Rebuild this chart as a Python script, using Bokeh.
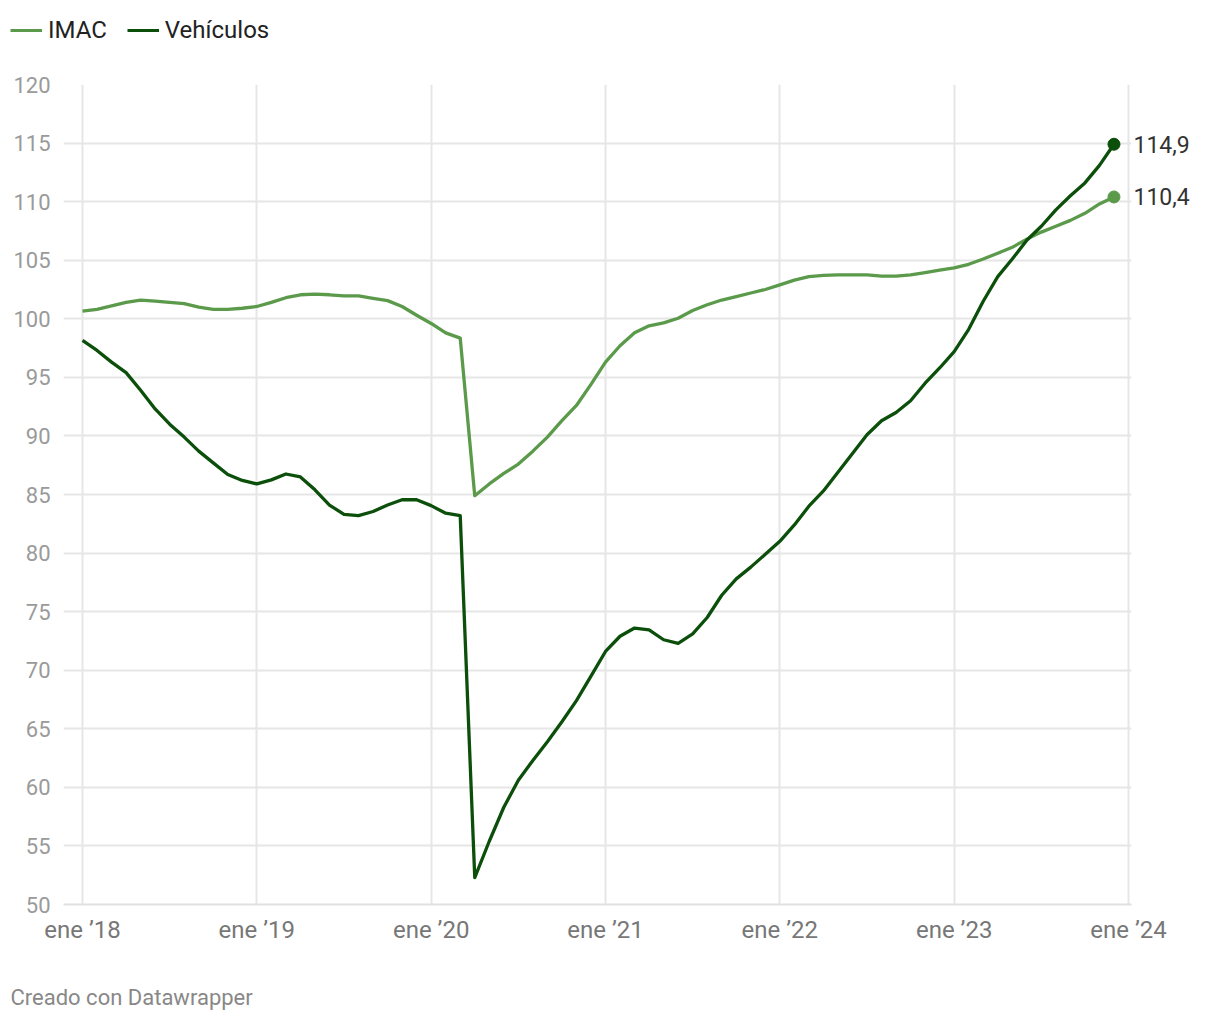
from bokeh.plotting import figure
from bokeh.models import (Range1d, FixedTicker, Legend, LegendItem, LinearAxis, Label)
from bokeh.layouts import column
from bokeh.embed import file_html
from bokeh.resources import INLINE

# ---- data (monthly, ene 2018 .. dic 2023) ----
year_labels = ["ene \u201918", "ene \u201919", "ene \u201920", "ene \u201921",
               "ene \u201922", "ene \u201923", "ene \u201924"]
months = list(range(72))

imac = [100.65, 100.8, 101.1, 101.4, 101.6, 101.5, 101.4, 101.3, 101.0, 100.8, 100.8, 100.9,
        101.05, 101.4, 101.8, 102.05, 102.1, 102.05, 101.95, 101.95, 101.75, 101.55, 101.05, 100.3,
        99.6, 98.8, 98.35, 84.9, 85.9, 86.8, 87.6, 88.7, 89.9, 91.3, 92.6, 94.4,
        96.3, 97.7, 98.8, 99.4, 99.65, 100.05, 100.7, 101.2, 101.6, 101.9, 102.2, 102.5,
        102.9, 103.3, 103.6, 103.7, 103.75, 103.75, 103.75, 103.65, 103.65, 103.75, 103.95, 104.15,
        104.35, 104.65, 105.1, 105.6, 106.1, 106.8, 107.4, 107.9, 108.4, 109.0, 109.8, 110.4]

vehiculos = [98.15, 97.3, 96.3, 95.4, 93.9, 92.3, 91.0, 89.9, 88.7, 87.7, 86.7, 86.2,
             85.9, 86.25, 86.75, 86.5, 85.4, 84.1, 83.3, 83.2, 83.55, 84.1, 84.55, 84.55,
             84.05, 83.4, 83.2, 52.3, 55.4, 58.3, 60.6, 62.3, 63.9, 65.6, 67.4, 69.5,
             71.6, 72.9, 73.6, 73.45, 72.6, 72.3, 73.1, 74.5, 76.4, 77.8, 78.8, 79.9,
             81.0, 82.4, 84.0, 85.3, 86.9, 88.5, 90.1, 91.3, 92.0, 93.0, 94.5, 95.8,
             97.2, 99.1, 101.5, 103.6, 105.1, 106.7, 107.9, 109.3, 110.5, 111.6, 113.1, 114.9]

series_names = ["IMAC", "Veh\u00edculos"]
end_labels = ["110,4", "114,9"]
y_ticks = list(range(50, 121, 5))
footer_text = "Creado con Datawrapper"

C_IMAC = "#5a9a4a"
C_VEH = "#0b4f0b"
FONT = "Roboto"

W = 1220
LEG_H, MAIN_H, FOOT_H = 60, 900, 60
left, right = 63, 1131
top, bottom = 84 - LEG_H, 904 - LEG_H
px_per_month = (1128 - 82) / 72.0
x0 = -(82 - left) / px_per_month
x1 = 72 + (right - 1128) / px_per_month


def bare(h):
    f = figure(width=W, height=h, output_backend="svg", toolbar_location=None,
               x_range=Range1d(0, 1), y_range=Range1d(0, 1),
               x_axis_type=None, y_axis_type=None, frame_align=False,
               min_border_left=0, min_border_right=0, min_border_top=0, min_border_bottom=0,
               outline_line_color=None, background_fill_color="white",
               border_fill_color="white")
    f.grid.visible = False
    return f


# ---- legend strip (series lines lie outside this strip's visible range) ----
p_leg = bare(LEG_H)
l1 = p_leg.line(months, imac, line_color=C_IMAC, line_width=3.2)
l2 = p_leg.line(months, vehiculos, line_color=C_VEH, line_width=3.2)
legend = Legend(items=[LegendItem(label=series_names[0], renderers=[l1]),
                       LegendItem(label=series_names[1], renderers=[l2])],
                orientation="horizontal", location=(10, 16),
                border_line_color=None, background_fill_alpha=0,
                padding=0, margin=0, spacing=20,
                glyph_width=32, glyph_height=24, label_standoff=6,
                label_text_font=FONT, label_text_font_size="24px",
                label_text_color="#222222", label_height=24)
p_leg.add_layout(legend, "center")

# ---- main chart ----
p = figure(width=W, height=MAIN_H, output_backend="svg", toolbar_location=None,
           x_range=Range1d(x0, x1), y_range=Range1d(50, 120), frame_align=False,
           min_border_left=left, min_border_right=W - right,
           min_border_top=top, min_border_bottom=MAIN_H - bottom,
           outline_line_color=None, background_fill_color="white",
           border_fill_color="white")

p.xaxis.ticker = FixedTicker(ticks=[12 * i for i in range(7)])
p.xaxis.major_label_overrides = {12 * i: lab for i, lab in enumerate(year_labels)}
p.yaxis.ticker = FixedTicker(ticks=y_ticks)
for ax in (p.xaxis, p.yaxis):
    ax.major_tick_line_color = None
    ax.minor_tick_line_color = None
    ax.major_tick_out = 0
    ax.minor_tick_out = 0
    ax.major_label_text_font = FONT
p.yaxis.axis_line_color = None
p.yaxis.major_label_text_color = "#9a9a9a"
p.yaxis.major_label_text_font_size = "22px"
p.yaxis.major_label_standoff = 13
p.xaxis.axis_line_color = "#e0e0e0"
p.xaxis.axis_line_width = 2
p.xaxis.major_label_text_color = "#777777"
p.xaxis.major_label_text_font_size = "24px"
p.xaxis.major_label_standoff = 11

p.xgrid.grid_line_color = "#e6e6e6"
p.xgrid.grid_line_width = 2
p.ygrid.grid_line_color = "#e6e6e6"
p.ygrid.grid_line_width = 2

p.line(months, imac, line_color=C_IMAC, line_width=3.3, line_join="round")
p.line(months, vehiculos, line_color=C_VEH, line_width=3.3, line_join="round")
p.scatter([months[-1]], [imac[-1]], size=12, color=C_IMAC)
p.scatter([months[-1]], [vehiculos[-1]], size=12, color=C_VEH)

end_vals = [imac[-1], vehiculos[-1]]
rax = LinearAxis(ticker=FixedTicker(ticks=end_vals),
                 major_label_overrides={v: lab for v, lab in zip(end_vals, end_labels)},
                 axis_line_color=None, major_tick_line_color=None, minor_tick_line_color=None,
                 major_tick_out=0, minor_tick_out=0,
                 major_label_standoff=2, major_label_text_font=FONT,
                 major_label_text_font_size="23px", major_label_text_color="#333333")
p.add_layout(rax, "right")

# ---- footer strip ----
p_foot = bare(FOOT_H)
p_foot.add_layout(Label(x=10, y=FOOT_H - 37, x_units="screen", y_units="screen",
                        text=footer_text, text_baseline="middle", text_align="left",
                        text_font=FONT, text_font_size="22px", text_color="#888888"))

layout = column(p_leg, p, p_foot, spacing=0)
open("out.html", "w").write(file_html(layout, INLINE))
